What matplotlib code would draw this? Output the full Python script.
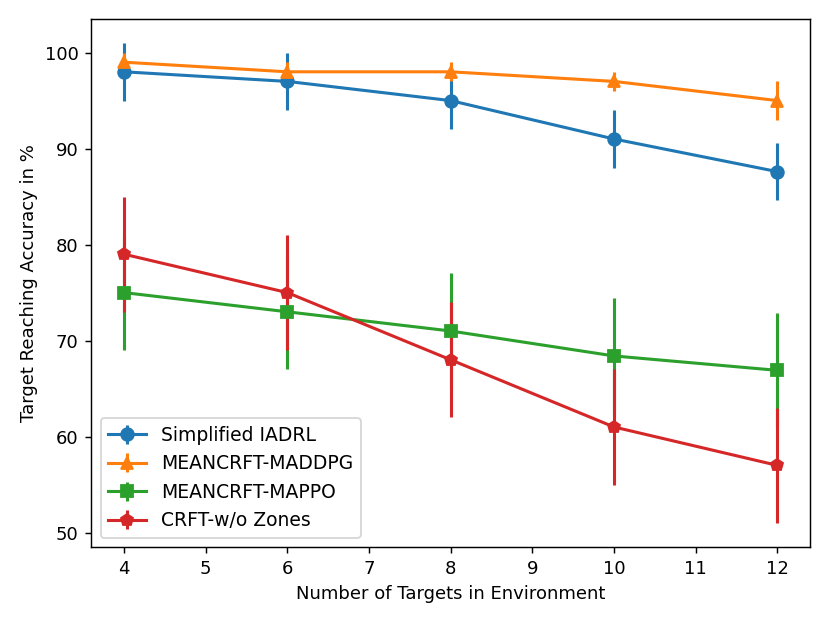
import matplotlib
matplotlib.use('Agg')
import matplotlib.pyplot as plt

targets = [4, 6, 8, 10, 12]

iadrl = [98, 97, 95, 91, 87.6]
iadrl_err = [3, 3, 3, 3, 3]
maddpg = [99, 98, 98, 97, 95]
maddpg_err = [1, 1, 1, 1, 2]
mappo = [75, 73, 71, 68.4, 66.9]
mappo_err = [6, 6, 6, 6, 6]
nozones = [79, 75, 68, 61, 57]
nozones_err = [6, 6, 6, 6, 6]

fig, ax = plt.subplots(figsize=(830 / 130, 623 / 130), dpi=130)
fig.subplots_adjust(left=0.110, right=0.976, top=0.9695, bottom=0.122)

ms = 7
ax.errorbar(targets, iadrl, yerr=iadrl_err, marker='o', ms=ms, lw=1.7, label='Simplified IADRL')
ax.errorbar(targets, maddpg, yerr=maddpg_err, marker='^', ms=ms, lw=1.7, label='MEANCRFT-MADDPG')
ax.errorbar(targets, mappo, yerr=mappo_err, marker='s', ms=ms, lw=1.7, label='MEANCRFT-MAPPO')
ax.errorbar(targets, nozones, yerr=nozones_err, marker='p', ms=ms, lw=1.7, label='CRFT-w/o Zones')

ax.set_xlabel('Number of Targets in Environment')
ax.set_ylabel('Target Reaching Accuracy in %')
ax.legend(loc='lower left', fontsize=10.4)

fig.savefig('out.png', dpi=130)
